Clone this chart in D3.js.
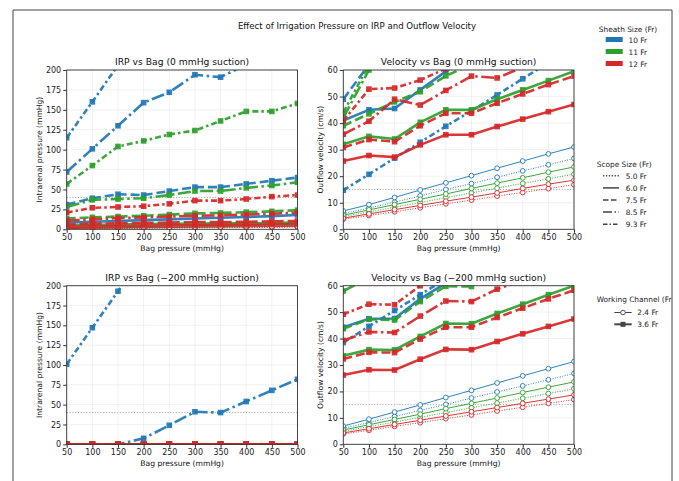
<!DOCTYPE html>
<html>
<head>
<meta charset="utf-8">
<script src="https://cdn.jsdelivr.net/npm/d3@7"></script>
<style>
  body { margin: 0; background: #fff; }
  svg { display: block; font-family: "DejaVu Sans", sans-serif; }
</style>
</head>
<body>
<svg id="chart" width="679" height="481"></svg>
<script>
// x values shared by every series
var bag = [50, 100, 150, 200, 250, 300, 350, 400, 450, 500];

var sheaths = ["10 Fr", "11 Fr", "12 Fr"];
var sheathColors = ["#1f77b4", "#2ca02c", "#d62728"];
var scopes = ["5.0 Fr", "6.0 Fr", "7.5 Fr", "8.5 Fr", "9.3 Fr"];
var channels = ["2.4 Fr", "3.6 Fr"];

var irpTicks = [0, 25, 50, 75, 100, 125, 150, 175, 200];
var velTicks = [0, 10, 20, 30, 40, 50, 60];

// [sheath, scope, working channel, values at each bag pressure]
var irpNoSuction = [
  ["10 Fr", "5.0 Fr", "2.4 Fr", [1.5, 2, 2.5, 3, 3, 3.5, 4, 4, 4.5, 5]],
  ["10 Fr", "6.0 Fr", "2.4 Fr", [2, 2.5, 3, 3.5, 4, 4.5, 5, 5.5, 6, 6.5]],
  ["10 Fr", "6.0 Fr", "3.6 Fr", [8.5, 9.5, 10.5, 11.5, 12.5, 13.5, 14.5, 15.5, 16.5, 18]],
  ["10 Fr", "7.5 Fr", "3.6 Fr", [31, 39, 44, 43, 48, 53, 53, 57, 61, 65]],
  ["10 Fr", "8.5 Fr", "3.6 Fr", [72, 101, 130, 159, 172, 194, 191, 207, 224, 240]],
  ["10 Fr", "9.3 Fr", "3.6 Fr", [115, 160, 206, 250, 290, 330, 360, 400, 430, 460]],
  ["11 Fr", "5.0 Fr", "2.4 Fr", [1, 1.5, 1.5, 2, 2, 2.5, 2.5, 3, 3, 3.5]],
  ["11 Fr", "6.0 Fr", "2.4 Fr", [1.5, 2, 2, 2.5, 3, 3, 3.5, 4, 4, 4.5]],
  ["11 Fr", "6.0 Fr", "3.6 Fr", [5, 5.5, 6, 6.5, 7, 7, 7.5, 7.5, 8, 8.5]],
  ["11 Fr", "7.5 Fr", "3.6 Fr", [13.5, 15, 16, 17, 18.5, 20, 20.5, 21.5, 22.5, 24]],
  ["11 Fr", "8.5 Fr", "3.6 Fr", [28, 37, 38, 39, 43, 48, 48, 52, 55, 59]],
  ["11 Fr", "9.3 Fr", "3.6 Fr", [57, 80, 104, 111, 119, 124, 136, 148, 148, 158]],
  ["12 Fr", "5.0 Fr", "2.4 Fr", [0.8, 1, 1.2, 1.4, 1.6, 1.8, 2, 2.2, 2.4, 2.6]],
  ["12 Fr", "6.0 Fr", "2.4 Fr", [1, 1.3, 1.6, 1.9, 2.2, 2.5, 2.8, 3.1, 3.4, 3.7]],
  ["12 Fr", "6.0 Fr", "3.6 Fr", [3, 3.5, 4, 4.5, 5, 5, 5.5, 5.5, 6, 6.5]],
  ["12 Fr", "7.5 Fr", "3.6 Fr", [6, 7, 7.5, 8, 8.5, 9, 9, 9.5, 10, 10.5]],
  ["12 Fr", "8.5 Fr", "3.6 Fr", [11, 12.5, 14, 15, 16, 17, 17.5, 18.5, 19.5, 21]],
  ["12 Fr", "9.3 Fr", "3.6 Fr", [21, 27, 28, 29, 32, 36, 36, 38, 41, 43]]
];

var irpSuction = [
  ["10 Fr", "5.0 Fr", "2.4 Fr", [0, 0, 0, 0, 0, 0, 0, 0, 0, 0]],
  ["10 Fr", "6.0 Fr", "2.4 Fr", [0, 0, 0, 0, 0, 0, 0, 0, 0, 0]],
  ["10 Fr", "6.0 Fr", "3.6 Fr", [0, 0, 0, 0, 0, 0, 0, 0, 0, 0]],
  ["10 Fr", "7.5 Fr", "3.6 Fr", [0, 0, 0, 0, 0, 0, 0, 0, 0, 0]],
  ["10 Fr", "8.5 Fr", "3.6 Fr", [0, 0, 0, 7.5, 24, 41, 40, 54, 68, 82]],
  ["10 Fr", "9.3 Fr", "3.6 Fr", [101, 147, 193, 240, 285, 330, 370, 410, 450, 490]],
  ["11 Fr", "5.0 Fr", "2.4 Fr", [0, 0, 0, 0, 0, 0, 0, 0, 0, 0]],
  ["11 Fr", "6.0 Fr", "2.4 Fr", [0, 0, 0, 0, 0, 0, 0, 0, 0, 0]],
  ["11 Fr", "6.0 Fr", "3.6 Fr", [0, 0, 0, 0, 0, 0, 0, 0, 0, 0]],
  ["11 Fr", "7.5 Fr", "3.6 Fr", [0, 0, 0, 0, 0, 0, 0, 0, 0, 0]],
  ["11 Fr", "8.5 Fr", "3.6 Fr", [0, 0, 0, 0, 0, 0, 0, 0, 0, 0]],
  ["11 Fr", "9.3 Fr", "3.6 Fr", [0, 0, 0, 0, 0, 0, 0, 0, 0, 0]],
  ["12 Fr", "5.0 Fr", "2.4 Fr", [0, 0, 0, 0, 0, 0, 0, 0, 0, 0]],
  ["12 Fr", "6.0 Fr", "2.4 Fr", [0, 0, 0, 0, 0, 0, 0, 0, 0, 0]],
  ["12 Fr", "6.0 Fr", "3.6 Fr", [0, 0, 0, 0, 0, 0, 0, 0, 0, 0]],
  ["12 Fr", "7.5 Fr", "3.6 Fr", [0, 0, 0, 0, 0, 0, 0, 0, 0, 0]],
  ["12 Fr", "8.5 Fr", "3.6 Fr", [0, 0, 0, 0, 0, 0, 0, 0, 0, 0]],
  ["12 Fr", "9.3 Fr", "3.6 Fr", [0, 0, 0, 0, 0, 0, 0, 0, 0, 0]]
];

var velNoSuction = [
  ["10 Fr", "5.0 Fr", "2.4 Fr", [6.0, 8.0, 10.2, 12.6, 15.0, 17.2, 19.6, 22.0, 24.3, 26.7]],
  ["10 Fr", "6.0 Fr", "2.4 Fr", [6.9, 9.3, 12.0, 14.8, 17.5, 20.2, 23.0, 25.7, 28.4, 31.0]],
  ["10 Fr", "6.0 Fr", "3.6 Fr", [41, 45, 45.5, 52.5, 59.5, 66, 68, 73, 78, 83]],
  ["10 Fr", "7.5 Fr", "3.6 Fr", [49, 62, 66, 70, 75, 80, 84, 88, 92, 96]],
  ["10 Fr", "8.5 Fr", "3.6 Fr", [64, 72, 78, 84, 90, 96, 100, 105, 110, 115]],
  ["10 Fr", "9.3 Fr", "3.6 Fr", [14.7, 20.7, 26.8, 32.8, 38.8, 44.6, 50.6, 56.7, 62.8, 68.8]],
  ["11 Fr", "5.0 Fr", "2.4 Fr", [4.8, 6.5, 8.3, 10.1, 11.9, 13.7, 15.5, 17.3, 19.0, 20.8]],
  ["11 Fr", "6.0 Fr", "2.4 Fr", [5.3, 7.3, 9.3, 11.3, 13.3, 15.4, 17.4, 19.4, 21.5, 23.5]],
  ["11 Fr", "6.0 Fr", "3.6 Fr", [32.0, 35.0, 34.0, 40.3, 45.0, 45.0, 49.0, 52.5, 56.0, 59.5]],
  ["11 Fr", "7.5 Fr", "3.6 Fr", [39.0, 43.5, 48.0, 51.8, 57.8, 62, 66, 70, 74, 78]],
  ["11 Fr", "8.5 Fr", "3.6 Fr", [42, 60, 66, 72, 78, 82, 86, 90, 94, 98]],
  ["11 Fr", "9.3 Fr", "3.6 Fr", [44, 62, 70, 76, 82, 88, 92, 96, 100, 104]],
  ["12 Fr", "5.0 Fr", "2.4 Fr", [3.8, 5.2, 6.6, 8.1, 9.6, 11.0, 12.5, 13.9, 15.3, 16.8]],
  ["12 Fr", "6.0 Fr", "2.4 Fr", [4.2, 5.8, 7.4, 9.0, 10.6, 12.1, 13.7, 15.4, 17.0, 18.5]],
  ["12 Fr", "6.0 Fr", "3.6 Fr", [25.7, 27.8, 27.2, 31.8, 35.6, 35.6, 38.7, 41.5, 44.3, 47.0]],
  ["12 Fr", "7.5 Fr", "3.6 Fr", [30.8, 33.8, 33.0, 39.0, 43.7, 43.7, 47.5, 51.0, 54.5, 57.7]],
  ["12 Fr", "8.5 Fr", "3.6 Fr", [35.8, 40.7, 49.0, 46.8, 52.3, 57.7, 57.0, 61, 64, 67]],
  ["12 Fr", "9.3 Fr", "3.6 Fr", [40.8, 52.8, 53.2, 56.2, 60.5, 65, 64, 68, 72, 76]]
];

var velSuction = [
  ["10 Fr", "5.0 Fr", "2.4 Fr", [6.1, 8.2, 10.5, 12.8, 15.1, 17.5, 19.8, 22.1, 24.4, 26.8]],
  ["10 Fr", "6.0 Fr", "2.4 Fr", [6.9, 9.5, 12.2, 14.9, 17.7, 20.4, 23.2, 25.9, 28.6, 31.3]],
  ["10 Fr", "6.0 Fr", "3.6 Fr", [44.3, 47.5, 47.6, 55, 61, 62, 67, 72, 77, 82]],
  ["10 Fr", "7.5 Fr", "3.6 Fr", [62, 68, 72, 76, 80, 84, 88, 92, 96, 100]],
  ["10 Fr", "8.5 Fr", "3.6 Fr", [70, 78, 84, 90, 96, 100, 105, 110, 115, 120]],
  ["10 Fr", "9.3 Fr", "3.6 Fr", [38.5, 44.6, 50.6, 56.6, 62.6, 68.6, 74.6, 80.6, 86.6, 92.6]],
  ["11 Fr", "5.0 Fr", "2.4 Fr", [4.9, 6.7, 8.4, 10.2, 12.0, 13.8, 15.6, 17.4, 19.2, 21.0]],
  ["11 Fr", "6.0 Fr", "2.4 Fr", [5.4, 7.4, 9.4, 11.4, 13.5, 15.5, 17.5, 19.6, 21.6, 23.6]],
  ["11 Fr", "6.0 Fr", "3.6 Fr", [33.5, 35.8, 35.7, 40.8, 45.7, 45.6, 49.5, 53.0, 56.6, 60.0]],
  ["11 Fr", "7.5 Fr", "3.6 Fr", [43.7, 47.3, 47.0, 54.0, 59.8, 59.7, 65, 70, 74, 78]],
  ["11 Fr", "8.5 Fr", "3.6 Fr", [58, 63, 68, 73, 78, 83, 88, 92, 96, 100]],
  ["11 Fr", "9.3 Fr", "3.6 Fr", [66, 72, 78, 84, 90, 96, 100, 105, 110, 115]],
  ["12 Fr", "5.0 Fr", "2.4 Fr", [3.9, 5.3, 6.8, 8.2, 9.7, 11.1, 12.6, 14.0, 15.5, 16.9]],
  ["12 Fr", "6.0 Fr", "2.4 Fr", [4.3, 5.9, 7.5, 9.1, 10.7, 12.3, 13.9, 15.5, 17.1, 18.7]],
  ["12 Fr", "6.0 Fr", "3.6 Fr", [26.2, 28.2, 28.1, 32.2, 35.9, 35.8, 38.9, 41.8, 44.6, 47.4]],
  ["12 Fr", "7.5 Fr", "3.6 Fr", [32.3, 34.8, 34.7, 39.8, 44.3, 44.3, 48.0, 51.5, 55.0, 58.3]],
  ["12 Fr", "8.5 Fr", "3.6 Fr", [39.3, 42.5, 42.3, 48.5, 54.2, 54.0, 58.7, 62, 66, 69]],
  ["12 Fr", "9.3 Fr", "3.6 Fr", [49.2, 53.0, 52.8, 60, 66, 66, 71, 75, 80, 84]]
];

var svg = d3.select("#chart");

// dash patterns per scope size, for thick (3.6) and thin (2.4) lines
var dashThick = { "5.0 Fr": "2,2.5", "6.0 Fr": null, "7.5 Fr": "9,4", "8.5 Fr": "13,3.5,2.5,3.5", "9.3 Fr": "6,3,2.5,3" };
var dashThin = { "5.0 Fr": "1,1.5", "6.0 Fr": null, "7.5 Fr": "4,2", "8.5 Fr": "6,2,1,2", "9.3 Fr": "3,1.5,1,1.5" };
var dashLegend = { "5.0 Fr": "1.3,1.6", "6.0 Fr": null, "7.5 Fr": "5.5,2.5", "8.5 Fr": "9,2.5,1.5,2.5", "9.3 Fr": "4.5,2,1.5,2" };

function color(s) { return sheathColors[sheaths.indexOf(s)]; }

function drawPanel(p) {
  var width = p.right - p.left, height = p.bottom - p.top;
  var g = svg.append("g").attr("transform", "translate(" + p.left + "," + p.top + ")");

  var x = d3.scaleLinear().domain([50, 500]).range([0, width]);
  var y = d3.scaleLinear().domain([0, p.yMax]).range([height, 0]);

  // light grid
  g.append("g").selectAll("line").data(bag).enter().append("line")
    .attr("x1", d => x(d)).attr("x2", d => x(d)).attr("y1", 0).attr("y2", height)
    .attr("stroke", "#ebebeb").attr("stroke-width", 0.7);
  g.append("g").selectAll("line").data(p.ticks).enter().append("line")
    .attr("y1", d => y(d)).attr("y2", d => y(d)).attr("x1", 0).attr("x2", width)
    .attr("stroke", "#ebebeb").attr("stroke-width", 0.7);

  // threshold line
  g.append("line")
    .attr("x1", 0).attr("x2", width).attr("y1", y(p.threshold)).attr("y2", y(p.threshold))
    .attr("stroke", "#aaaaaa").attr("stroke-width", 1).attr("stroke-dasharray", "1.2,1.6");

  var clipId = "clip" + p.id;
  g.append("clipPath").attr("id", clipId)
    .append("rect").attr("width", width).attr("height", height);

  var plot = g.append("g").attr("clip-path", "url(#" + clipId + ")");
  var line = d3.line().x((d, i) => x(bag[i])).y(d => y(d));

  p.data.forEach(function(s) {
    var c = color(s[0]);
    var thick = s[2] === "3.6 Fr";
    var sg = plot.append("g");
    sg.append("path")
      .attr("d", line(s[3]))
      .attr("fill", "none")
      .attr("stroke", c)
      .attr("stroke-opacity", 0.92)
      .attr("stroke-width", thick ? 2.6 : 1)
      .attr("stroke-dasharray", thick ? dashThick[s[1]] : dashThin[s[1]]);
    if (thick) {
      sg.selectAll("rect").data(s[3]).enter().append("rect")
        .attr("x", (d, i) => x(bag[i]) - 2.8).attr("y", d => y(d) - 2.8)
        .attr("width", 5.6).attr("height", 5.6)
        .attr("fill", c).attr("fill-opacity", 0.92);
    } else {
      sg.selectAll("circle").data(s[3]).enter().append("circle")
        .attr("cx", (d, i) => x(bag[i])).attr("cy", d => y(d)).attr("r", 2.4)
        .attr("fill", "#fff").attr("stroke", c).attr("stroke-width", 0.9);
    }
  });

  // axes
  var xa = g.append("g").attr("transform", "translate(0," + height + ")")
    .call(d3.axisBottom(x).tickValues(bag).tickSize(3.5).tickPadding(2));
  var ya = g.append("g").call(d3.axisLeft(y).tickValues(p.ticks).tickSize(3.5).tickPadding(2));
  [xa, ya].forEach(function(a) {
    a.select(".domain").remove();
    a.selectAll(".tick line").attr("stroke", "#333");
    a.selectAll(".tick text").attr("fill", "#222").attr("font-size", 8).attr("font-family", "DejaVu Sans");
  });

  g.append("rect").attr("width", width).attr("height", height)
    .attr("fill", "none").attr("stroke", "#333").attr("stroke-width", 0.9);

  g.append("text")
    .attr("x", width / 2).attr("y", -5)
    .attr("text-anchor", "middle").attr("font-size", 9.2).attr("fill", "#111")
    .text(p.title);
  g.append("text")
    .attr("x", width / 2).attr("y", height + 22)
    .attr("text-anchor", "middle").attr("font-size", 7.6).attr("fill", "#111")
    .text("Bag pressure (mmHg)");
  g.append("text")
    .attr("transform", "rotate(-90)")
    .attr("x", -height / 2).attr("y", p.labelX)
    .attr("text-anchor", "middle").attr("font-size", 7.6).attr("fill", "#111")
    .text(p.yLabel);
}

var left1 = 66.7, right1 = 297.5, left2 = 343.3, right2 = 574;
var top1 = 70, bottom1 = 229.3, top2 = 285.7, bottom2 = 444.3;

drawPanel({ id: 1, left: left1, right: right1, top: top1, bottom: bottom1, yMax: 200, ticks: irpTicks,
  threshold: 40, data: irpNoSuction, title: "IRP vs Bag (0 mmHg suction)",
  yLabel: "Intrarenal pressure (mmHg)", labelX: -25 });
drawPanel({ id: 2, left: left2, right: right2, top: top1, bottom: bottom1, yMax: 60, ticks: velTicks,
  threshold: 15, data: velNoSuction, title: "Velocity vs Bag (0 mmHg suction)",
  yLabel: "Outflow velocity (cm/s)", labelX: -20 });
drawPanel({ id: 3, left: left1, right: right1, top: top2, bottom: bottom2, yMax: 200, ticks: irpTicks,
  threshold: 40, data: irpSuction, title: "IRP vs Bag (\u2212200 mmHg suction)",
  yLabel: "Intrarenal pressure (mmHg)", labelX: -25 });
drawPanel({ id: 4, left: left2, right: right2, top: top2, bottom: bottom2, yMax: 60, ticks: velTicks,
  threshold: 15, data: velSuction, title: "Velocity vs Bag (\u2212200 mmHg suction)",
  yLabel: "Outflow velocity (cm/s)", labelX: -20 });

// figure title
svg.append("text")
  .attr("x", 357).attr("y", 29)
  .attr("text-anchor", "middle").attr("font-size", 8.6).attr("fill", "#111")
  .text("Effect of Irrigation Pressure on IRP and Outflow Velocity");

// legends, clipped at the outer frame
svg.append("clipPath").attr("id", "frameClip")
  .append("rect").attr("x", 0).attr("y", 0).attr("width", 672).attr("height", 481);
var leg = svg.append("g").attr("clip-path", "url(#frameClip)")
  .attr("font-size", 7.4).attr("fill", "#222");

leg.append("text").attr("x", 628).attr("y", 31.5).attr("text-anchor", "middle").text("Sheath Size (Fr)");
sheaths.forEach(function(s, i) {
  leg.append("rect").attr("x", 605.7).attr("y", 37 + i * 12).attr("width", 17).attr("height", 5)
    .attr("fill", sheathColors[i]);
  leg.append("text").attr("x", 628.5).attr("y", 42.5 + i * 12).text(s);
});

leg.append("text").attr("x", 596.7).attr("y", 167).text("Scope Size (Fr)");
scopes.forEach(function(s, i) {
  var yy = 175.8 + i * 12.1;
  leg.append("line").attr("x1", 603).attr("x2", 619).attr("y1", yy).attr("y2", yy)
    .attr("stroke", "#444").attr("stroke-width", 1.5)
    .attr("stroke-dasharray", dashLegend[s]);
  leg.append("text").attr("x", 625.7).attr("y", yy + 2.7).text(s);
});

leg.append("text").attr("x", 596.7).attr("y", 302).text("Working Channel (Fr)");
channels.forEach(function(s, i) {
  var yy = 312.5 + i * 11.8;
  var thick = s === "3.6 Fr";
  leg.append("line").attr("x1", 614.3).attr("x2", 631.7).attr("y1", yy).attr("y2", yy)
    .attr("stroke", "#444").attr("stroke-width", thick ? 2 : 1);
  if (thick) {
    leg.append("rect").attr("x", 620.5).attr("y", yy - 2.5).attr("width", 5).attr("height", 5).attr("fill", "#444");
  } else {
    leg.append("circle").attr("cx", 623).attr("cy", yy).attr("r", 2.3)
      .attr("fill", "#fff").attr("stroke", "#444").attr("stroke-width", 0.9);
  }
  leg.append("text").attr("x", 637.3).attr("y", yy + 2.7).text(s);
});

// outer frame of the figure
svg.append("path")
  .attr("d", "M13,481 L13,10 L672,10 L672,481")
  .attr("fill", "none").attr("stroke", "#444").attr("stroke-width", 1);
</script>
</body>
</html>
